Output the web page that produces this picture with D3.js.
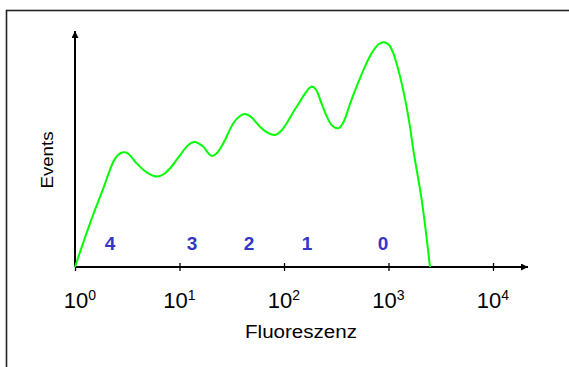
<!DOCTYPE html>
<html>
<head>
<meta charset="utf-8">
<script src="https://cdn.jsdelivr.net/npm/d3@7"></script>
<style>
html,body{margin:0;padding:0;background:#fff;}
svg{display:block;}
text{font-family:"Liberation Sans",Arial,Helvetica,sans-serif;}
</style>
</head>
<body>
<svg id="chart" width="569" height="367"></svg>
<script>
// ---- data ----
const fluorescence = [1, 1.392, 1.866, 2.326, 2.579, 2.899, 3.216, 3.895, 4.887, 6.131, 7.108, 8.113, 9.674, 11.72, 12.88, 14.06, 15.37, 16.90, 18.53, 20.33, 22.70, 26.25, 32.72, 37.93, 42.36, 48.33, 58.93, 70.30, 82.02, 93.6, 106.1, 122.0, 142.3, 158.9, 184.1, 202.4, 226.0, 257.9, 287.9, 330.9, 367.0, 400.8, 437.7, 488.7, 574.1, 636.6, 715.2, 811.0, 905.6, 1011, 1111, 1206, 1338, 1471, 1606, 1727, 2078, 2495];
const events       = [0, 18.5, 33.3, 44.6, 47.5, 48.6, 48.1, 43.9, 40.0, 38.3, 39.4, 41.8, 46.2, 51.0, 52.5, 53.0, 52.3, 51.0, 48.7, 47.0, 48.2, 52.4, 60.9, 64.0, 64.8, 63.6, 59.4, 56.8, 55.9, 57.6, 60.9, 65.5, 70.1, 73.5, 76.5, 75.2, 69.9, 63.6, 60.0, 58.8, 61.0, 65.3, 70.3, 75.8, 83.3, 87.7, 91.7, 94.5, 95.2, 94.1, 90.6, 85.6, 77.8, 69.1, 59.4, 49.6, 28.4, 0];
const tickValues   = [1, 10, 100, 1000, 10000];
const tickExponents = ["0", "1", "2", "3", "4"];
const peakLabels   = ["4", "3", "2", "1", "0"];
const peakPositions = [2.16, 13.2, 46.2, 166, 885];
const peakLabelLevel = 7.2;
const xLabel = "Fluoreszenz";
const yLabel = "Events";

// ---- layout ----
const svg = d3.select("#chart");
const x = d3.scaleLog().domain([1, 10000]).range([75, 493]);
const y = d3.scaleLinear().domain([0, 100]).range([267, 31]);

// frame
svg.append("rect").attr("x", 6.5).attr("y", 10.5).attr("width", 580).attr("height", 380)
  .attr("fill", "none").attr("stroke", "#222").attr("stroke-width", 1.6);

// arrow markers
const defs = svg.append("defs");
defs.append("marker").attr("id", "arrow").attr("viewBox", "0 0 10 10")
  .attr("refX", 10).attr("refY", 5).attr("markerWidth", 10).attr("markerHeight", 7)
  .attr("markerUnits", "userSpaceOnUse").attr("orient", "auto")
  .append("path").attr("d", "M0,0 L10,5 L0,10 Z").attr("fill", "#000");

// x axis (ticks)
const xAxis = d3.axisBottom(x).tickValues(tickValues).tickSize(4).tickFormat("");
const gx = svg.append("g").attr("transform", `translate(0,${y(0)})`).call(xAxis);
gx.select(".domain").remove();
gx.selectAll(".tick line").attr("y1", -4).attr("y2", 4).attr("stroke", "#000").attr("stroke-width", 1.3);

// axis lines with arrows
svg.append("line").attr("x1", x(1)).attr("y1", y(0)).attr("x2", x(10000) + 35).attr("y2", y(0))
  .attr("stroke", "#000").attr("stroke-width", 2).attr("marker-end", "url(#arrow)");
svg.append("line").attr("x1", x(1)).attr("y1", y(0)).attr("x2", x(1)).attr("y2", y(100))
  .attr("stroke", "#000").attr("stroke-width", 2).attr("marker-end", "url(#arrow)");

// tick labels 10^n
const tl = svg.append("g").selectAll("text").data(tickValues).join("text")
  .attr("x", (d, i) => x(d) + (i === 0 ? 5 : 0))
  .attr("y", 308)
  .attr("text-anchor", "middle")
  .attr("font-size", 22)
  .attr("fill", "#000");
tl.append("tspan").text("10");
tl.append("tspan").attr("font-size", 14).attr("dy", -8).text((d, i) => tickExponents[i]);

// axis titles
svg.append("text").attr("x", 301).attr("y", 337.5).attr("text-anchor", "middle")
  .attr("font-size", 17.5).attr("textLength", 112).attr("lengthAdjust", "spacingAndGlyphs").text(xLabel);
svg.append("text").attr("transform", `translate(53.3,160) rotate(-90)`).attr("text-anchor", "middle")
  .attr("font-size", 16.5).attr("textLength", 57).attr("lengthAdjust", "spacingAndGlyphs").text(yLabel);

// curve
const line = d3.line().x(d => x(d[0])).y(d => y(d[1])).curve(d3.curveCatmullRom.alpha(0.5));
svg.append("path").datum(fluorescence.map((f, i) => [f, events[i]]))
  .attr("d", line).attr("fill", "none").attr("stroke", "#00ff00").attr("stroke-width", 2);

// peak labels
svg.append("g").selectAll("text").data(peakLabels).join("text")
  .attr("x", (d, i) => x(peakPositions[i]))
  .attr("y", y(peakLabelLevel))
  .attr("text-anchor", "middle")
  .attr("font-size", 19).attr("font-weight", "bold").attr("fill", "#3535c8")
  .text(d => d);
</script>
</body>
</html>
